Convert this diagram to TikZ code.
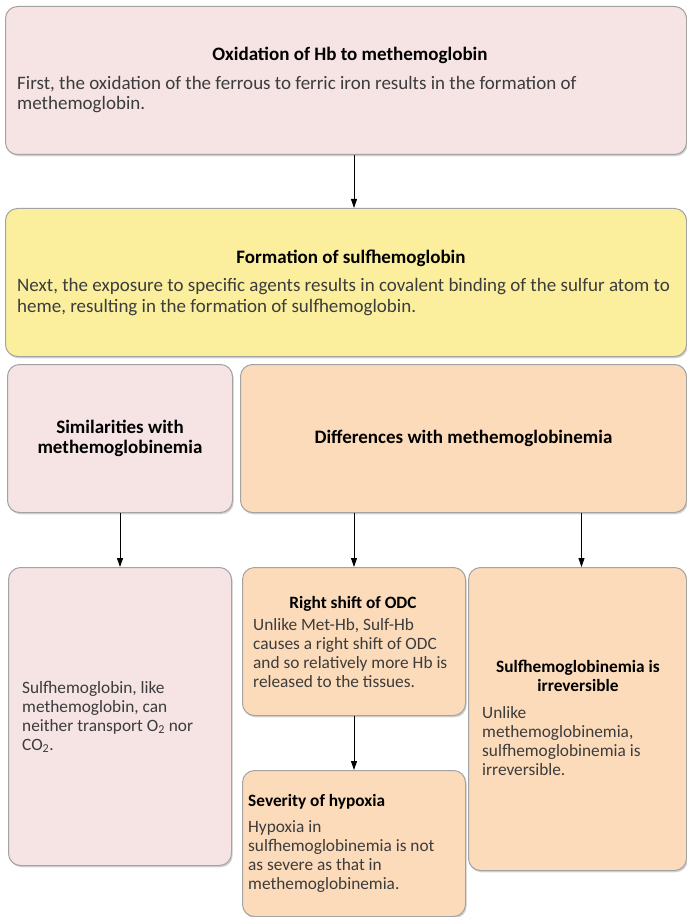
\documentclass[tikz,border=0pt]{standalone}
\usepackage{fontspec}
\setmainfont{Carlito}
\usepackage{xcolor}
\usepackage{tikz}
\usetikzlibrary{positioning,calc,shadows,arrows.meta}

\definecolor{cardpink}{HTML}{F6E3E3}
\definecolor{cardyellow}{HTML}{FBEF9E}
\definecolor{cardorange}{HTML}{FCDBBA}
\definecolor{cardline}{HTML}{A3A3A3}
\definecolor{bodygray}{HTML}{3C3C3C}

% two text sizes: the wide boxes on top, the small boxes below
\newcommand{\upperfont}{\fontsize{19pt}{20.5pt}\selectfont}
\newcommand{\lowerfont}{\fontsize{17.3pt}{18.9pt}\selectfont}

\tikzset{
    card/.style={draw=cardline, line width=1pt, rounded corners=12pt, anchor=north west,
        inner sep=0pt, drop shadow={shadow xshift=1.2pt, shadow yshift=-1.8pt, opacity=0.35}},
    pinkcard/.style={card, fill=cardpink},
    yellowcard/.style={card, fill=cardyellow},
    orangecard/.style={card, fill=cardorange},
    tophead/.style={inner sep=0pt, text=black, font=\upperfont\bfseries},
    topbody/.style={inner sep=0pt, text=bodygray, align=left, anchor=base west, font=\upperfont},
    headtxt/.style={inner sep=0pt, text=black, font=\lowerfont\bfseries},
    bodytxt/.style={inner sep=0pt, text=bodygray, align=left, anchor=base west, font=\lowerfont},
    flow/.style={-{Triangle[length=9pt,width=6pt]}, line width=0.9pt, black}
}

\begin{document}
\begin{tikzpicture}[x=1pt,y=-1pt]
    \useasboundingbox (0,0) rectangle (687,917);

    % boxes
    \node[pinkcard, minimum width=681pt, minimum height=148pt] (ox) at (5,6) {};
    \node[yellowcard, minimum width=681pt, minimum height=148pt] (form) at (5,208) {};
    \node[pinkcard, minimum width=225pt, minimum height=148pt] (sim) at (7,364) {};
    \node[orangecard, minimum width=446pt, minimum height=148pt] (diff) at (240,364) {};
    \node[pinkcard, minimum width=223pt, minimum height=298pt] (simbox) at (8,567) {};
    \node[orangecard, minimum width=223pt, minimum height=148pt] (rs) at (242,567) {};
    \node[orangecard, minimum width=223pt, minimum height=146pt] (sev) at (242,770) {};
    \node[orangecard, minimum width=218pt, minimum height=303pt] (irr) at (468,567) {};

    % texts (multi-line nodes sit on the baseline of their last line)
    \node[tophead, anchor=base] (oxhead) at (350,61) {Oxidation of Hb to methemoglobin};
    \node[topbody] (oxbody) at (17,110) {First, the oxidation of the ferrous to ferric iron results in the formation of\\methemoglobin.};
    \node[tophead, anchor=base] (formhead) at (351,263) {Formation of sulfhemoglobin};
    \node[topbody] (formbody) at (17,312) {Next, the exposure to specific agents results in covalent binding of the sulfur atom to\\heme, resulting in the formation of sulfhemoglobin.};
    \node[tophead, align=center] (simhead) at (sim.center) {Similarities with\\methemoglobinemia};
    \node[tophead] (diffhead) at (diff.center) {Differences with methemoglobinemia};
    \node[bodytxt] (simbody) at (22,750) {Sulfhemoglobin, like\\methemoglobin, can\\neither transport O\textsubscript{2} nor\\CO\textsubscript{2}.};
    \node[headtxt, anchor=base] (rshead) at (353,608) {Right shift of ODC};
    \node[bodytxt] (rsbody) at (253,687) {Unlike Met-Hb, Sulf-Hb\\causes a right shift of ODC\\and so relatively more Hb is\\released to the tissues.};
    \node[headtxt, anchor=base west] (sevhead) at (248,806) {Severity of hypoxia};
    \node[bodytxt] (sevbody) at (248,889) {Hypoxia in\\sulfhemoglobinemia is not\\as severe as that in\\methemoglobinemia.};
    \node[headtxt, align=center, anchor=base] (irrhead) at (578,691) {Sulfhemoglobinemia is\\irreversible};
    \node[bodytxt] (irrbody) at (482,775) {Unlike\\methemoglobinemia,\\sulfhemoglobinemia is\\irreversible.};

    % arrows
    \draw[flow] (ox.south -| rs.north) -- (form.north -| rs.north);
    \draw[flow] (sim.south) -- (simbox.north);
    \draw[flow] (diff.south -| rs.north) -- (rs.north);
    \draw[flow] ($(diff.south -| irr.north)+(4,0)$) -- ($(irr.north)+(4,0)$);
    \draw[flow] (rs.south) -- (sev.north);
\end{tikzpicture}
\end{document}
